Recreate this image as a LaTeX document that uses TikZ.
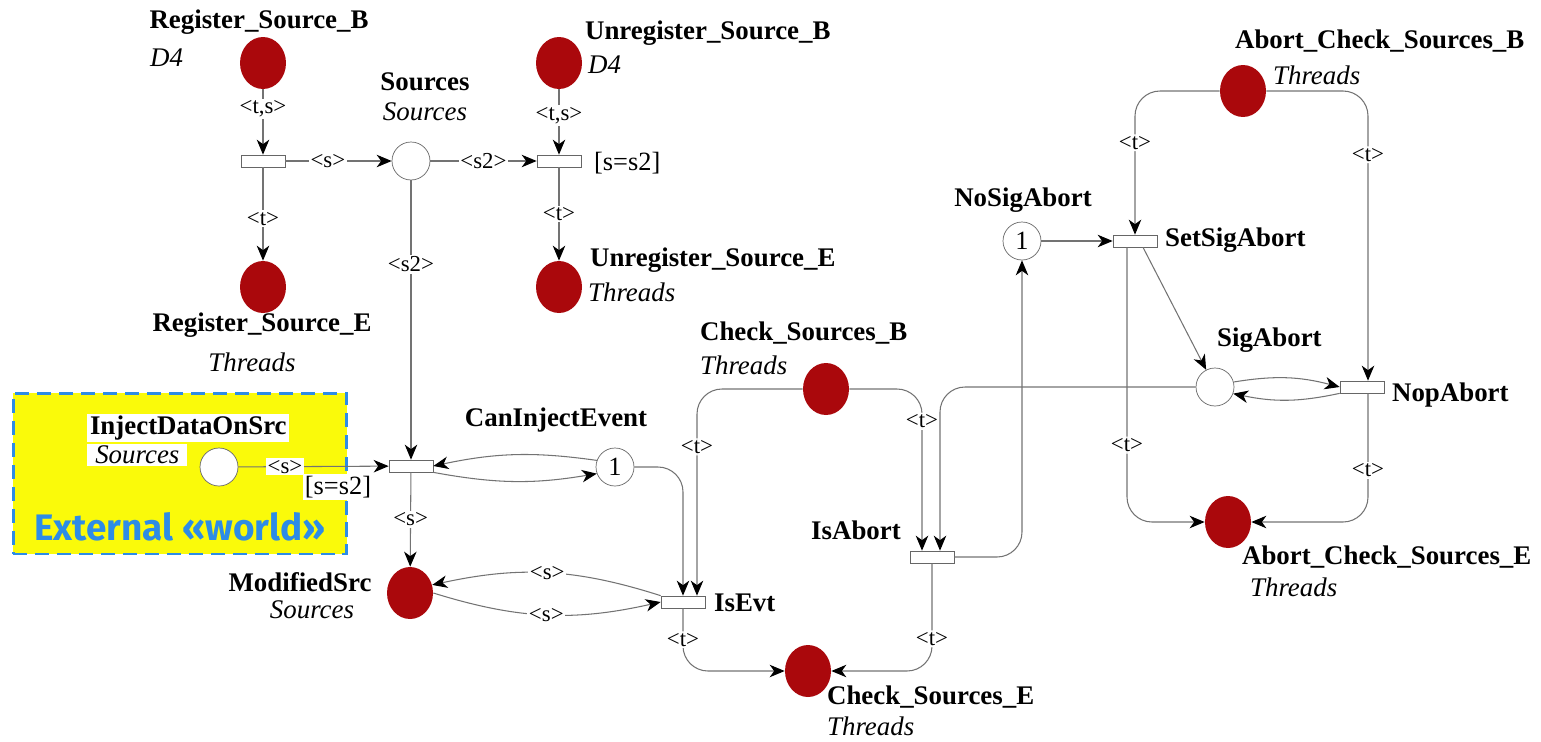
\documentclass[tikz,border=0pt]{standalone}
\usepackage{fontspec}
\setmainfont{Liberation Serif}
\newfontfamily\worldfont{Fira Sans}
\usetikzlibrary{arrows.meta,shapes.geometric,calc}

\definecolor{tokenred}{RGB}{170,8,12}
\definecolor{worldblue}{RGB}{45,140,230}
\definecolor{worldyellow}{RGB}{250,250,10}

\begin{document}
\begin{tikzpicture}[
  x=0.02cm, y=-0.02cm,
  place/.style={circle, draw=black!60, fill=white, minimum size=0.76cm, inner sep=0pt, font=\fontsize{15}{15}\selectfont},
  busy/.style={ellipse, fill=tokenred, minimum width=0.92cm, minimum height=1.04cm, inner sep=0pt},
  trans/.style={rectangle, draw=black!60, fill=white, minimum width=0.88cm, minimum height=0.24cm, inner sep=0pt},
  flow/.style={draw=black!55, line width=0.6pt, -{Stealth[black, length=0.3cm, width=0.25cm, inset=0.09cm]}},
  ring/.style={flow, rounded corners=0.5cm},
  inscr/.style={fill=white, inner sep=1pt, font=\fontsize{13}{13}\selectfont},
  pname/.style={inner sep=1pt, font=\fontsize{15.3}{16}\selectfont\bfseries},
  ptype/.style={inner sep=1pt, font=\fontsize{15.3}{16}\selectfont\itshape},
  world/.style={fill=worldyellow, draw=worldblue, line width=1.7pt, dash pattern=on 8pt off 4.5pt,
    minimum width=6.68cm, minimum height=3.22cm, inner sep=0pt}
]
  \useasboundingbox (0,0) rectangle (1541,741);

  % External world
  \node[world] (ext) at (180,473.5) {};
  \node[font=\worldfont\fontsize{21}{21}\selectfont\bfseries, text=worldblue] (worldtxt) at (180,527) {External «world»};

  % Places
  \node[busy] (regB) at (263,63) {};
  \node[busy] (regE) at (263,287) {};
  \node[place] (src) at (411,161) {};
  \node[busy] (unregB) at (559,63) {};
  \node[busy] (unregE) at (559,287) {};
  \node[place] (inj) at (219,467) {};
  \node[place] (canInj) at (615,467) {1};
  \node[busy] (modSrc) at (410,593) {};
  \node[busy] (chkB) at (826,389) {};
  \node[busy] (chkE) at (808,671) {};
  \node[place] (noSig) at (1022,241) {1};
  \node[place] (sig) at (1215,387) {};
  \node[busy] (abB) at (1243,91) {};
  \node[busy] (abE) at (1228,522) {};

  % Transitions
  \node[trans] (tReg) at (263,161) {};
  \node[trans] (tUnreg) at (559,161) {};
  \node[trans] (tInj) at (411,466) {};
  \node[trans] (tEvt) at (683,602) {};
  \node[trans] (tAbort) at (932,557) {};
  \node[trans] (tSet) at (1135,241) {};
  \node[trans] (tNop) at (1362,387) {};

  % Names and colour sets
  \node[pname] at (259,22) {Register\_Source\_B};
  \node[ptype, anchor=west] at (148,58) {D4};
  \node[pname] at (262,325) {Register\_Source\_E};
  \node[ptype] at (252,362) {Threads};
  \node[pname] at (425,82) {Sources};
  \node[ptype] at (425,112) {Sources};
  \node[pname, anchor=west] at (583,33) {Unregister\_Source\_B};
  \node[ptype, anchor=west] at (586,65) {D4};
  \node[pname, anchor=west] at (588,260) {Unregister\_Source\_E};
  \node[ptype, anchor=west] at (586,292) {Threads};
  \node[pname, fill=white, anchor=west, minimum width=4.04cm, align=left] at (87,428) {InjectDataOnSrc};
  \node[ptype, fill=white, anchor=west, minimum width=2cm, align=left] at (87,455) {Sources};
  \node[pname] at (556,420) {CanInjectEvent};
  \node[pname] at (300,582) {ModifiedSrc};
  \node[ptype] at (312,610) {Sources};
  \node[pname, anchor=west] at (712,603) {IsEvt};
  \node[pname, anchor=west] at (698,333) {Check\_Sources\_B};
  \node[ptype, anchor=west] at (698,365) {Threads};
  \node[pname] at (856,530) {IsAbort};
  \node[pname, anchor=west] at (825,697) {Check\_Sources\_E};
  \node[ptype, anchor=west] at (825,726) {Threads};
  \node[pname] at (1023,200) {NoSigAbort};
  \node[pname, anchor=west] at (1163,240) {SetSigAbort};
  \node[pname, anchor=west] at (1233,41) {Abort\_Check\_Sources\_B};
  \node[ptype, anchor=west] at (1271,75) {Threads};
  \node[pname, anchor=west] at (1215,340) {SigAbort};
  \node[pname, anchor=west] at (1390,395) {NopAbort};
  \node[pname, anchor=west] at (1240,557) {Abort\_Check\_Sources\_E};
  \node[ptype, anchor=west] at (1248,587) {Threads};

  % Guards
  \node[anchor=west, font=\fontsize{15}{15}\selectfont] (gUnreg) at (588,163) {[s=s2]};
  \node[fill=white, inner sep=1pt, font=\fontsize{15}{15}\selectfont] (gInj) at (338,487) {[s=s2]};

  % Registration arcs
  \draw[flow] (regB) -- node[inscr, pos=0.3] {<t,s>} (tReg);
  \draw[flow] (tReg) -- node[inscr, pos=0.55] {<t>} (regE);
  \draw[flow] (tReg) -- node[inscr, pos=0.4] {<s>} (src);
  \draw[flow] (src) -- node[inscr] {<s2>} (tUnreg);
  \draw[flow] (unregB) -- node[inscr, pos=0.4] {<t,s>} (tUnreg);
  \draw[flow] (tUnreg) -- node[inscr] {<t>} (unregE);

  % Injection arcs
  \draw[flow] (src) -- node[inscr, pos=0.3] {<s2>} (tInj);
  \draw[flow] (inj) -- node[inscr, pos=0.31] {<s>} (tInj);
  \draw[flow] (tInj) -- node[inscr] {<s>} (modSrc);
  \draw[flow] (canInj.160) to[bend right=10] (tInj.east);
  \draw[flow] (tInj.south east) to[bend right=10] (canInj.200);
  \draw[ring] (canInj.east) -| (tEvt.north);
  \draw[flow] (modSrc.east) to[bend right=15] node[inscr] {<s>} (tEvt.west);
  \draw[flow] (tEvt.north west) to[bend right=15] node[inscr] {<s>} (modSrc.20);

  % Check arcs
  \draw[ring] (chkB.west) -| node[inscr, pos=0.64] {<t>} ($(tEvt.north)+(14,0)$);
  \draw[ring] (chkB.east) -| node[inscr, pos=0.6] {<t>} ($(tAbort.north)+(-10,0)$);
  \draw[ring] (sig.west) -| ($(tAbort.north)+(8,0)$);
  \draw[ring] (tAbort.east) -| (noSig.south);
  \draw[ring] (tAbort.south) |- node[inscr, pos=0.35] {<t>} (chkE.east);
  \draw[ring] (tEvt.south) |- node[inscr, pos=0.25] {<t>} (chkE.west);

  % Abort arcs
  \draw[flow] (noSig) -- (tSet);
  \draw[ring] (abB.west) -| node[inscr, pos=0.68] {<t>} (tSet.north);
  \draw[ring] (abB.east) -| node[inscr, pos=0.61] {<t>} ($(tNop.north)+(6,0)$);
  \draw[flow] ($(tSet.south)+(8,0)$) -- (sig);
  \draw[flow] (sig.15) to[bend left=12] (tNop.west);
  \draw[flow] (tNop.south west) to[bend left=12] (sig.-20);
  \draw[ring] ($(tSet.south)+(-8,0)$) |- node[inscr, pos=0.36] {<t>} (abE.west);
  \draw[ring] ($(tNop.south)+(6,0)$) |- node[inscr, pos=0.3] {<t>} (abE.east);

\end{tikzpicture}
\end{document}
